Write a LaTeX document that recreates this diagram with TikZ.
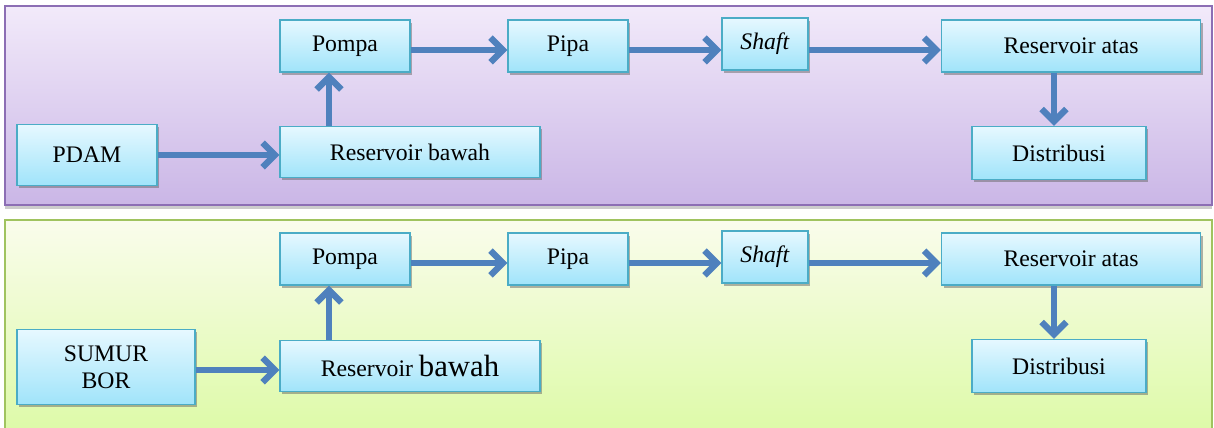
\documentclass[tikz,border=0pt]{standalone}
\usepackage{fontspec}
\setmainfont{Liberation Serif}
\usetikzlibrary{arrows.meta, shadows}

\definecolor{boxline}{RGB}{75,172,198}
\definecolor{boxtop}{RGB}{230,248,255}
\definecolor{boxbot}{RGB}{160,228,250}
\definecolor{arrowblue}{RGB}{79,129,189}
\definecolor{ungutop}{RGB}{242,234,250}
\definecolor{ungubot}{RGB}{202,182,230}
\definecolor{unguline}{RGB}{140,110,180}
\definecolor{hijautop}{RGB}{250,252,236}
\definecolor{hijaubot}{RGB}{220,250,165}
\definecolor{hijauline}{RGB}{160,195,95}

\tikzset{
  blok/.style={draw=boxline, line width=0.8pt, top color=boxtop, bottom color=boxbot,
    drop shadow={shadow xshift=1.2pt, shadow yshift=-1.5pt, fill=black!60},
    font=\fontsize{13.5}{15.5}\selectfont, align=center, inner sep=0pt},
  panah/.style={arrowblue, line width=3.6pt, -{Straight Barb[length=7pt,width=14pt]}},
}

\begin{document}
\begin{tikzpicture}[x=0.02cm, y=-0.02cm]

\useasboundingbox (0,0) rectangle (1214,428);

% Panels
\draw[unguline, line width=1pt, top color=ungutop, bottom color=ungubot,
      drop shadow={shadow xshift=0pt, shadow yshift=-2pt, fill=black!40}]
      (5,6) rectangle (1212,205);
\draw[hijauline, line width=1pt, top color=hijautop, bottom color=hijaubot]
      (5,220) rectangle (1212,440);

% Top flow (PDAM)
\node[blok, minimum width=2.8cm, minimum height=1.22cm] (pdam) at (87,155) {PDAM};
\node[blok, minimum width=5.2cm, minimum height=1.02cm] (resbawah) at (410,152) {Reservoir bawah};
\node[blok, minimum width=2.6cm, minimum height=1.04cm] (pompa) at (345,46) {Pompa};
\node[blok, minimum width=2.4cm, minimum height=1.04cm] (pipa) at (568,46) {Pipa};
\node[blok, minimum width=1.72cm, minimum height=1.04cm] (shaft) at (765,44) {\textit{Shaft}};
\node[blok, minimum width=5.18cm, minimum height=1.04cm] (resatas) at (1071,46) {Reservoir atas};
\node[blok, minimum width=3.48cm, minimum height=1.06cm] (distribusi) at (1059,153) {Distribusi};

\coordinate (naik) at (329,0);
\coordinate (turun) at (1054,0);

\draw[panah] (pdam.east) -- (pdam.east -| resbawah.west);
\draw[panah] (resbawah.north -| naik) -- (pompa.south -| naik);
\draw[panah] ([yshift=-0.08cm]pompa.east) -- ([yshift=-0.08cm]pompa.east -| pipa.west);
\draw[panah] ([yshift=-0.08cm]pipa.east) -- ([yshift=-0.08cm]pipa.east -| shaft.west);
\draw[panah] ([yshift=-0.08cm]pipa.east -| shaft.east) -- ([yshift=-0.08cm]pipa.east -| resatas.west);
\draw[panah] (resatas.south -| turun) -- (distribusi.north -| turun);

% Bottom flow (SUMUR BOR)
\node[blok, minimum width=3.56cm, minimum height=1.5cm] (sumur) at (106,367) {SUMUR\\BOR};
\node[blok, minimum width=5.2cm, minimum height=1.02cm] (resbawahB) at (410,366)
  {Reservoir {\fontsize{17.5}{19}\selectfont bawah}};
\node[blok, minimum width=2.6cm, minimum height=1.04cm] (pompaB) at (345,259) {Pompa};
\node[blok, minimum width=2.4cm, minimum height=1.04cm] (pipaB) at (568,259) {Pipa};
\node[blok, minimum width=1.72cm, minimum height=1.04cm] (shaftB) at (765,257) {\textit{Shaft}};
\node[blok, minimum width=5.18cm, minimum height=1.04cm] (resatasB) at (1071,259) {Reservoir atas};
\node[blok, minimum width=3.48cm, minimum height=1.06cm] (distribusiB) at (1059,366) {Distribusi};

\draw[panah] ([yshift=-0.06cm]sumur.east) -- ([yshift=-0.06cm]sumur.east -| resbawahB.west);
\draw[panah] (resbawahB.north -| naik) -- (pompaB.south -| naik);
\draw[panah] ([yshift=-0.08cm]pompaB.east) -- ([yshift=-0.08cm]pompaB.east -| pipaB.west);
\draw[panah] ([yshift=-0.08cm]pipaB.east) -- ([yshift=-0.08cm]pipaB.east -| shaftB.west);
\draw[panah] ([yshift=-0.08cm]pipaB.east -| shaftB.east) -- ([yshift=-0.08cm]pipaB.east -| resatasB.west);
\draw[panah] (resatasB.south -| turun) -- (distribusiB.north -| turun);

\end{tikzpicture}
\end{document}
